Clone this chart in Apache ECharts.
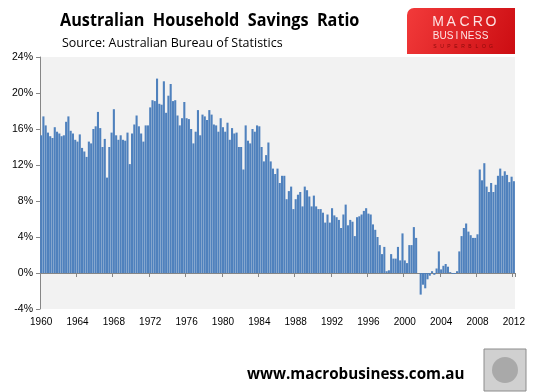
<!DOCTYPE html>
<html><head><meta charset="utf-8">
<script src="https://cdn.jsdelivr.net/npm/echarts@6/dist/echarts.min.js"></script>
<style>html,body{margin:0;padding:0;background:#fff}#c{width:543px;height:392px}</style>
</head><body><div id="c"></div>
<script>
// Quarterly household saving ratio (%), 1960 Q1 onwards
const firstYear = 1960;
const quarterNames = ['Q1', 'Q2', 'Q3', 'Q4'];
const savings1960s = [
  15.3, 17.4, 16.4, 15.6,  15.2, 15.0, 16.2, 15.7,  15.5, 15.2, 15.3, 16.8,
  17.4, 15.8, 15.5, 14.8,  14.6, 15.4, 13.9, 13.5,  12.9, 14.6, 14.4, 16.0,
  16.3, 17.9, 16.1, 14.0,  14.9, 10.6, 14.0, 15.6,  18.2, 15.3, 14.8, 15.3,
  14.8, 14.7, 15.6, 12.1
];
const savings1970s = [
  15.5, 16.5, 17.5, 16.3,  15.5, 14.6, 16.4, 16.4,  18.4, 19.2, 19.1, 21.6,
  18.8, 18.7, 21.3, 17.8,  19.7, 21.0, 19.1, 19.2,  17.5, 16.4, 17.2, 19.0,
  17.2, 17.1, 16.0, 14.4,  15.7, 18.1, 15.3, 17.6,  17.4, 17.0, 18.1, 17.6,
  16.5, 16.4, 15.7, 17.2
];
const savings1980s = [
  16.2, 15.7, 16.7, 14.8,  16.1, 15.5, 15.6, 14.0,  14.0, 11.5, 16.4, 14.7,
  14.4, 16.0, 15.7, 16.4,  16.3, 14.0, 12.4, 13.1,  14.5, 12.4, 11.6, 11.0,
  11.6, 10.0, 10.8, 10.8,   8.2,  9.1,  9.6,  7.1,   8.2,  8.7,  9.0,  7.4,
   9.6,  9.2,  8.5,  7.4
];
const savings1990s = [
   8.6,  7.4,  7.1,  7.1,   6.7,  5.6,  6.5,  5.6,   7.2,  6.4,  6.2,  5.9,
   5.0,  6.5,  7.6,  5.3,   5.9,  5.7,  4.1,  6.2,   6.3,  6.5,  6.9,  7.2,
   6.6,  6.5,  5.4,  4.8,   4.0,  3.1,  2.1,  2.9,   0.2,  0.3,  2.1,  1.6,
   1.6,  2.9,  1.4,  4.4
];
const savings2000s = [
   1.4,  1.1,  3.1,  3.1,   5.1,  3.9,  0.0, -2.4,  -1.3, -1.7, -0.7, -0.3,
   0.2, -0.2,  0.5,  2.4,   0.4,  0.8,  1.0,  0.7,   0.1, -0.1, -0.1,  0.2,
   2.4,  4.1,  5.0,  5.5,   4.6,  4.2,  3.9,  3.9,   4.3, 11.5, 10.3, 12.2,
   9.6,  9.0, 10.0,  9.0
];
const savings2010s = [
   9.8, 10.8, 11.6, 10.8,  11.3, 10.9, 10.1, 10.7,  10.2
];
const tickLabels = ['1960','1964','1968','1972','1976','1980','1984','1988','1992','1996','2000','2004','2008','2012'];
const yTicks = { min: -4, max: 24, step: 4 };

const savings = [].concat(savings1960s, savings1970s, savings1980s, savings1990s, savings2000s, savings2010s);
const categories = savings.map((v, i) => (firstYear + Math.floor(i / 4)) + ' ' + quarterNames[i % 4]);
const isTick = (i) => {
  const c = categories[i];
  return c.endsWith('Q1') && tickLabels.indexOf(c.slice(0, 4)) >= 0;
};

const chart = echarts.init(document.getElementById('c'), null, { renderer: 'canvas' });

const logoLetters = (word, x0, x1, y, font, fill) => {
  const step = (x1 - x0) / (word.length - 1);
  return word.split('').map((ch, k) => ({
    type: 'text', x: x0 + k * step, y: y,
    style: { text: ch, font: font, fill: fill, textAlign: 'center', textVerticalAlign: 'top' }
  }));
};

chart.setOption({
  animation: false,
  grid: { left: 40, right: 28, top: 57, bottom: 83, show: true, backgroundColor: '#F2F2F2', borderWidth: 0 },
  xAxis: [
    {
      type: 'category', data: categories,
      axisLine: { onZero: true, lineStyle: { color: '#868686', width: 1 } },
      axisTick: { show: true, interval: (i) => isTick(i), length: 4, lineStyle: { color: '#868686' } },
      axisLabel: { show: false }
    },
    {
      type: 'category', data: categories, position: 'bottom',
      axisLine: { show: false, onZero: false },
      axisTick: { show: false },
      axisLabel: {
        interval: (i) => isTick(i), formatter: (v) => v.slice(0, 4),
        margin: 8, fontSize: 10, color: '#000', fontFamily: 'Liberation Sans'
      }
    }
  ],
  yAxis: {
    type: 'value', min: yTicks.min, max: yTicks.max, interval: yTicks.step,
    axisLine: { show: true, lineStyle: { color: '#868686' } },
    axisTick: { show: true, length: 4, lineStyle: { color: '#868686' } },
    splitLine: { show: false },
    axisLabel: { formatter: '{value}%', fontSize: 10.5, color: '#000', fontFamily: 'Liberation Sans', margin: 7 }
  },
  series: [{
    type: 'bar', data: savings, xAxisIndex: 0,
    itemStyle: { color: '#4F81BD' },
    barCategoryGap: '8%'
  }],
  graphic: [
    { type: 'text', x: 60, y: 12, scaleX: 0.9,
      style: { text: 'Australian  Household  Savings  Ratio', font: 'bold 18px "Open Sans"', fill: '#000' } },
    { type: 'text', x: 62, y: 37, scaleX: 0.96,
      style: { text: 'Source: Australian Bureau of Statistics', font: '13px "Open Sans"', fill: '#000' } },
    { type: 'group', left: 407, top: 8, children: [
      { type: 'rect', shape: { x: 0, y: 0, width: 108, height: 46, r: [7, 0, 0, 0] },
        style: { fill: new echarts.graphic.LinearGradient(0, 0, 1, 1, [
          { offset: 0, color: '#f23a3a' }, { offset: 1, color: '#cc0d12' }]) } },
      ...logoLetters('MACRO', 31, 84, 7, '14px "Liberation Sans"', '#fde3e3'),
      ...logoLetters('BUSINESS', 29, 78, 23, '10px "Liberation Sans"', '#fde3e3'),
      ...logoLetters('SUPERBLOG', 28, 84, 36, '5px "Liberation Sans"', '#8a0a0a')
    ] },
    { type: 'text', x: 247, y: 366, scaleX: 0.95,
      style: { text: 'www.macrobusiness.com.au', font: 'bold 16px "Open Sans"', fill: '#000' } },
    { type: 'rect', shape: { x: 484, y: 349, width: 42, height: 42 },
      style: { fill: '#d0d0d0', stroke: '#8c8c8c', lineWidth: 1 } },
    { type: 'circle', shape: { cx: 505, cy: 370, r: 13 },
      style: { fill: '#a9a9a9' } }
  ]
});
</script></body></html>
